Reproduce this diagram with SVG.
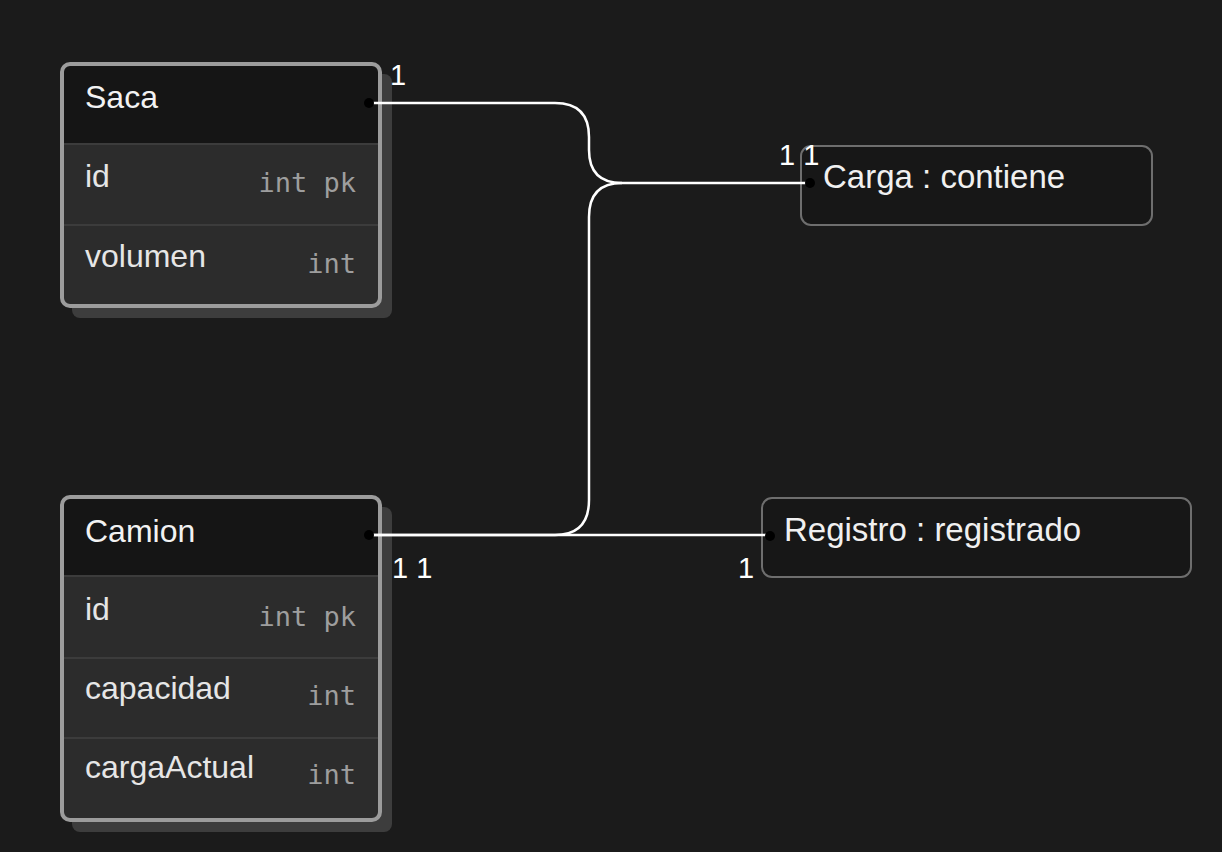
<svg xmlns="http://www.w3.org/2000/svg" width="1222" height="852" viewBox="0 0 1222 852">
<style>
.bg{fill:#1b1b1b}
.shadow{fill:#3d3d3d}
.body{fill:#2c2c2c}
.head{fill:#151515}
.border{fill:none;stroke:#9c9c9c;stroke-width:4}
.sep{stroke:#3c3c3c;stroke-width:2}
.title{font-family:"Liberation Sans",Arial,sans-serif;font-size:32px;fill:#f2f2f2}
.attr{font-family:"Liberation Sans",Arial,sans-serif;font-size:32px;fill:#e6e6e6}
.type{font-family:"DejaVu Sans Mono","Liberation Mono",monospace;font-size:27px;fill:#9e9e9e;text-anchor:end}
.rel{fill:#171717;stroke:#6e6e6e;stroke-width:2}
.reltext{font-family:"Liberation Sans",Arial,sans-serif;font-size:33px;fill:#f0f0f0}
.card{font-family:"Liberation Sans",Arial,sans-serif;font-size:29px;fill:#ffffff}
.edge{fill:none;stroke:#ffffff;stroke-width:2.5}
.dot{fill:#000000}
</style>
<rect class="bg" x="0" y="0" width="1222" height="852"/>

<g id="Saca">
<rect class="shadow" x="72" y="74" width="320" height="244" rx="8"/>
<rect class="body" x="62" y="64" width="318" height="242" rx="8"/>
<path class="head" d="M62,144 V72 Q62,64 70,64 H372 Q380,64 380,72 V144 Z"/>
<line class="sep" x1="62" y1="144" x2="380" y2="144"/>
<line class="sep" x1="62" y1="225" x2="380" y2="225"/>
<rect class="border" x="62" y="64" width="318" height="242" rx="8"/>
<text class="title" x="85" y="108">Saca</text>
<text class="attr" x="85" y="187">id</text>
<text class="type" x="356" y="192">int pk</text>
<text class="attr" x="85" y="267">volumen</text>
<text class="type" x="356" y="273">int</text>
</g>

<g id="Camion">
<rect class="shadow" x="72" y="507" width="320" height="325" rx="8"/>
<rect class="body" x="62" y="497" width="318" height="323" rx="8"/>
<path class="head" d="M62,576 V505 Q62,497 70,497 H372 Q380,497 380,505 V576 Z"/>
<line class="sep" x1="62" y1="576" x2="380" y2="576"/>
<line class="sep" x1="62" y1="658" x2="380" y2="658"/>
<line class="sep" x1="62" y1="738" x2="380" y2="738"/>
<rect class="border" x="62" y="497" width="318" height="323" rx="8"/>
<text class="title" x="85" y="542">Camion</text>
<text class="attr" x="85" y="620">id</text>
<text class="type" x="356" y="626">int pk</text>
<text class="attr" x="85" y="699">capacidad</text>
<text class="type" x="356" y="705">int</text>
<text class="attr" x="85" y="778">cargaActual</text>
<text class="type" x="356" y="784">int</text>
</g>

<g id="Carga">
<rect class="rel" x="801" y="146" width="351" height="79" rx="10"/>
<text class="reltext" x="823" y="188">Carga : contiene</text>
</g>

<g id="Registro">
<rect class="rel" x="762" y="498" width="429" height="79" rx="10"/>
<text class="reltext" x="784" y="541">Registro : registrado</text>
</g>

<g id="connectors">
<path class="edge" d="M372,103 H555 Q589,103 589,137 V150 Q589,183 622,183 H810"/>
<path class="edge" d="M372,535 H555 Q589,535 589,500 V217 Q589,183 622,183"/>
<path class="edge" d="M372,535 H770"/>
<circle class="dot" cx="369" cy="103" r="5"/>
<circle class="dot" cx="369" cy="535" r="5"/>
<circle class="dot" cx="810" cy="183" r="5"/>
<circle class="dot" cx="770" cy="536" r="5"/>
</g>

<g id="cardinalities">
<text class="card" x="390" y="85">1</text>
<text class="card" x="779" y="165">1 1</text>
<text class="card" x="392" y="578">1 1</text>
<text class="card" x="738" y="578">1</text>
</g>
</svg>
